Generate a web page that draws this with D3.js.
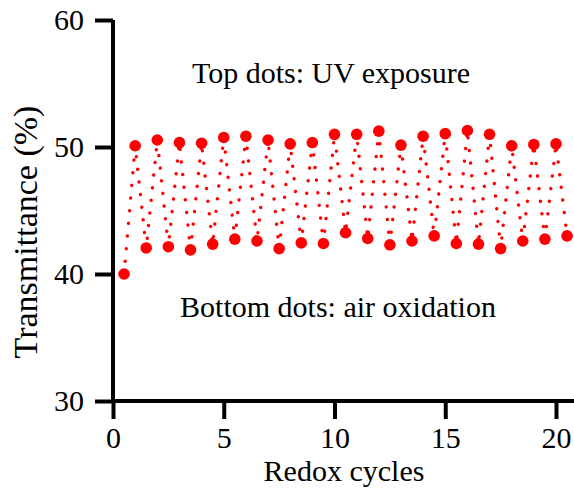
<!DOCTYPE html>
<html>
<head>
<meta charset="utf-8">
<script src="https://cdn.jsdelivr.net/npm/d3@7"></script>
<style>
  html, body { margin: 0; padding: 0; background: #fff; }
  svg { display: block; }
  text { font-family: "Liberation Serif", "Times New Roman", serif; fill: #000; }
</style>
</head>
<body>
<svg id="chart" width="574" height="492"></svg>
<script>
// Start point, then alternating readings: UV exposure (top) and air oxidation (bottom)
const startCycle = 0.5;
const startValue = 40.0;
const uvCycles = [1, 2, 3, 4, 5, 6, 7, 8, 9, 10, 11, 12, 13, 14, 15, 16, 17, 18, 19, 20];
const uvValues = [50.1, 50.55, 50.35, 50.3, 50.75, 50.85, 50.55, 50.25, 50.35, 51.0,
                  51.0, 51.25, 50.15, 50.85, 51.05, 51.3, 51.0, 50.1, 50.2, 50.25];
const airCycles = [1.5, 2.5, 3.5, 4.5, 5.5, 6.5, 7.5, 8.5, 9.5, 10.5,
                   11.5, 12.5, 13.5, 14.5, 15.5, 16.5, 17.5, 18.5, 19.5, 20.5];
const airValues = [42.05, 42.15, 41.9, 42.35, 42.75, 42.6, 42.0, 42.45, 42.4, 43.25,
                   42.8, 42.3, 42.6, 43.0, 42.4, 42.35, 42.0, 42.6, 42.75, 43.0];
const xTicks = [0, 5, 10, 15, 20];
const yTicks = [30, 40, 50, 60];

// Build the measurement sequence: start, then UV / air alternation
const sequence = [{ x: startCycle, y: startValue }];
uvCycles.forEach((c, i) => {
  sequence.push({ x: c, y: uvValues[i] });
  sequence.push({ x: airCycles[i], y: airValues[i] });
});

const svg = d3.select("#chart");
const x = d3.scaleLinear().domain([0, 21]).range([113, 113 + 21 * 22.15]);
const y = d3.scaleLinear().domain([30, 60]).range([401, 20]);

// Dotted connecting trace
svg.append("path")
  .datum(sequence)
  .attr("d", d3.line().x(d => x(d.x)).y(d => y(d.y)))
  .attr("fill", "none")
  .attr("stroke", "#ff0000")
  .attr("stroke-width", 3.4)
  .attr("stroke-linecap", "round")
  .attr("stroke-dasharray", "0.1 12.6");

// Measurement markers
svg.append("g")
  .selectAll("circle")
  .data(sequence)
  .join("circle")
  .attr("cx", d => x(d.x))
  .attr("cy", d => y(d.y))
  .attr("r", 5.8)
  .attr("fill", "#ff0000");

// Axes
const xAxis = svg.append("g")
  .attr("transform", `translate(0,${y(30)})`)
  .call(d3.axisBottom(x).tickValues(xTicks).tickFormat(d3.format("d")).tickSize(18).tickPadding(8));
const yAxis = svg.append("g")
  .attr("transform", `translate(${x(0)},0)`)
  .call(d3.axisLeft(y).tickValues(yTicks).tickFormat(d3.format("d")).tickSize(18).tickPadding(11));

[xAxis, yAxis].forEach(g => {
  g.select(".domain").attr("stroke", "#000").attr("stroke-width", 4);
  g.selectAll(".tick line").attr("stroke", "#000").attr("stroke-width", 4);
  g.selectAll(".tick text").attr("font-size", 30).attr("fill", "#000")
    .attr("font-family", "Liberation Serif, Times New Roman, serif");
});
// Make the axis lines meet at the corner
xAxis.select(".domain").attr("d", `M${x(0) - 2},0H${x(21)}`);
yAxis.select(".domain").attr("d", `M0,${y(30) + 2}V${y(60)}`);

// Axis titles
svg.append("text")
  .attr("x", 344).attr("y", 481)
  .attr("text-anchor", "middle")
  .attr("font-size", 30)
  .text("Redox cycles");
svg.append("text")
  .attr("transform", "translate(37,232) rotate(-90)")
  .attr("text-anchor", "middle")
  .attr("font-size", 34)
  .text("Transmittance (%)");

// Annotations
svg.append("text")
  .attr("x", 331).attr("y", 83)
  .attr("text-anchor", "middle")
  .attr("font-size", 30)
  .text("Top dots: UV exposure");
svg.append("text")
  .attr("x", 338).attr("y", 317)
  .attr("text-anchor", "middle")
  .attr("font-size", 30)
  .text("Bottom dots: air oxidation");
</script>
</body>
</html>
